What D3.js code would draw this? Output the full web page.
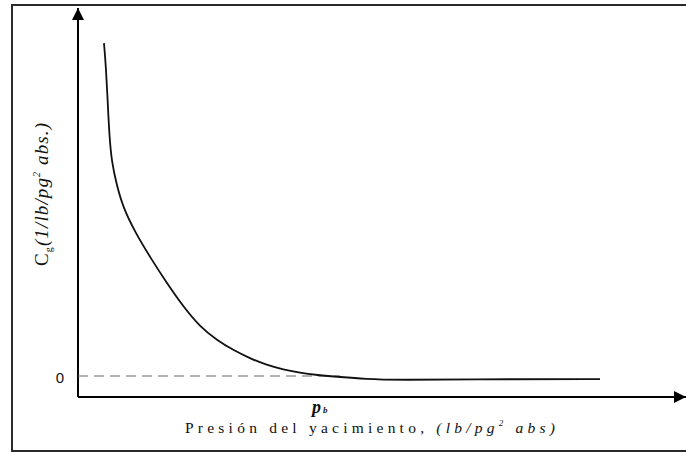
<!DOCTYPE html>
<html>
<head>
<meta charset="utf-8">
<script src="https://cdn.jsdelivr.net/npm/d3@7"></script>
<style>
  body { margin: 0; background: #fff; }
  text { font-family: "Liberation Serif", "DejaVu Serif", serif; fill: #111; }
</style>
</head>
<body>
<script>
// curve (arbitrary units)
const presion = [4.33, 4.67, 4.95, 5.22, 5.62, 6.45, 7.55, 9.5, 12.0, 14.78, 17.55, 20.33, 23.12, 25.88, 28.67, 31.45, 34.22, 37.0, 39.78, 43.67, 48.17, 52.0, 73.17, 87.0];
const cg = [97.9, 90.6, 80.6, 70.9, 62.9, 56.2, 49.4, 42.4, 35.0, 27.4, 20.4, 14.5, 10.6, 7.6, 5.2, 3.2, 1.9, 0.9, 0.3, -0.3, -0.9, -1.2, -0.9, -0.9];
const yTicks = [0];
const pbValue = 39;     // where p_b label sits
const dashEnd = 43.7;   // zero dashed reference ends here

const data = presion.map((p, i) => ({ p: p, c: cg[i] }));

// constants
const width = 686;
const height = 452;
const origin = { x: 78, y: 397 };

const svg = d3.select('body').append('svg')
       .attr('width', width).attr('height', height);

// frame
svg.append('rect').attr('x', 12).attr('y', 5).attr('width', 700).attr('height', 446)
   .attr('fill', 'none').attr('stroke', '#2a2a2a').attr('stroke-width', 2);

const xScale = d3.scaleLinear().domain([0, 100]).range([origin.x, 678]);
const yScale = d3.scaleLinear().domain([0, 100]).range([376, 36]);

// arrow marker
svg.append('defs').append('marker').attr('id', 'arrow')
   .attr('viewBox', '0 0 10 10').attr('refX', 10).attr('refY', 5)
   .attr('markerWidth', 12).attr('markerHeight', 12).attr('markerUnits', 'userSpaceOnUse')
   .attr('orient', 'auto')
   .append('path').attr('d', 'M0,0 L10,5 L0,10 Z').attr('fill', '#000');

// axes lines
svg.append('line').attr('x1', origin.x).attr('y1', origin.y).attr('x2', origin.x).attr('y2', 8)
   .attr('stroke', '#000').attr('stroke-width', 2).attr('marker-end', 'url(#arrow)');
svg.append('line').attr('x1', origin.x).attr('y1', origin.y).attr('x2', 686).attr('y2', origin.y)
   .attr('stroke', '#000').attr('stroke-width', 2).attr('marker-end', 'url(#arrow)');

// zero tick label
const yAxis = svg.append('g').attr('transform', `translate(${origin.x - 11}, 0)`)
   .call(d3.axisLeft(yScale).tickValues(yTicks).tickSize(0).tickFormat(d => d));
yAxis.select('.domain').remove();
yAxis.selectAll('text').style('font-family', '"Liberation Sans", Arial, sans-serif')
   .style('font-size', '15px').style('fill', '#111').attr('dy', '0.42em');

// dashed zero line
svg.append('line').attr('x1', origin.x).attr('x2', xScale(dashEnd))
   .attr('y1', yScale(0)).attr('y2', yScale(0))
   .attr('stroke', '#666').attr('stroke-width', 1).attr('stroke-dasharray', '10,6');

// curve
const line = d3.line().x(d => xScale(d.p)).y(d => yScale(d.c)).curve(d3.curveBasis);
svg.append('path').datum(data).attr('d', line)
   .attr('fill', 'none').attr('stroke', '#111').attr('stroke-width', 1.8);

// p_b label
const pb = svg.append('text').attr('x', xScale(pbValue)).attr('y', 413)
   .attr('font-size', 18).attr('font-weight', 'bold').attr('font-style', 'italic');
pb.append('tspan').text('p');
pb.append('tspan').attr('font-size', 9).attr('dx', 2).text('b');

// x label, spread to match the width of the original
const xl = svg.append('text').attr('x', 185).attr('y', 433)
   .attr('font-size', 15.5);
xl.append('tspan').text('Presión del yacimiento, ');
xl.append('tspan').attr('font-style', 'italic').text('(lb/pg');
xl.append('tspan').attr('font-style', 'italic').attr('font-size', 9).attr('dy', -7).text('2');
xl.append('tspan').attr('font-style', 'italic').attr('dy', 7).text(' abs)');
const xw = xl.node().getComputedTextLength();
xl.attr('letter-spacing', (370 - xw) / (xl.text().length - 1));

// y label
const yl = svg.append('text').attr('transform', 'translate(48, 266) rotate(-90)')
   .attr('font-size', 19);
yl.append('tspan').text('C');
yl.append('tspan').attr('font-size', 10).attr('dy', 4).text('g');
yl.append('tspan').attr('font-style', 'italic').attr('dy', -4).text('(1/lb/pg');
yl.append('tspan').attr('font-style', 'italic').attr('font-size', 10).attr('dy', -8).text('2');
yl.append('tspan').attr('font-style', 'italic').attr('dy', 8).text(' abs.)');
const yw = yl.node().getComputedTextLength();
yl.attr('letter-spacing', Math.max(0, (143 - yw) / (yl.text().length - 1)));
</script>
</body>
</html>
